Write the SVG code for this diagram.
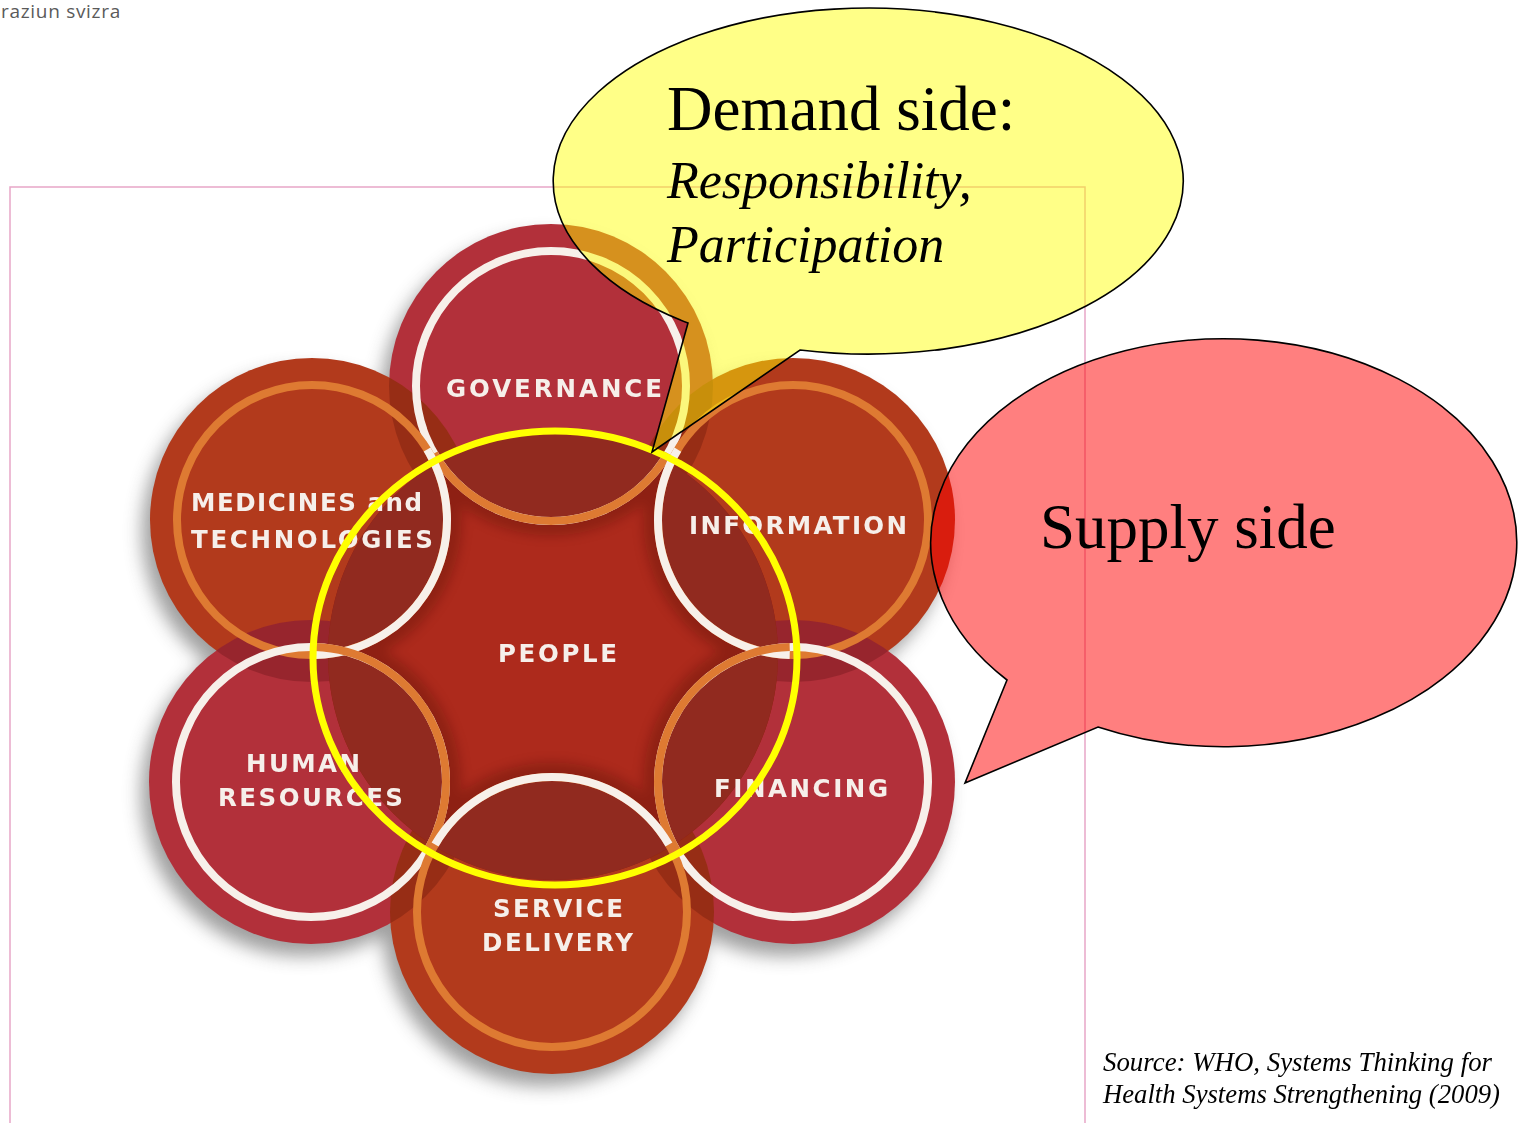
<svg xmlns="http://www.w3.org/2000/svg" width="1518" height="1123" viewBox="0 0 1518 1123">
<style>
.lbl{font-family:"DejaVu Sans","Open Sans",sans-serif;font-weight:700;font-size:24.5px;fill:#f6efea}
.crim{fill:#b2303a}
.oran{fill:#b23a1c}
.rw{fill:none;stroke:#f7f0ea;stroke-width:8}
.ro{fill:none;stroke:#de7a32;stroke-width:8}
.ser{font-family:"Liberation Serif","Times New Roman",serif;fill:#000}
.it{font-style:italic}
</style>
<defs>
<filter id="blur" x="-30%" y="-30%" width="160%" height="160%"><feGaussianBlur stdDeviation="9"/></filter>
<filter id="blur2" x="-30%" y="-30%" width="160%" height="160%"><feGaussianBlur stdDeviation="6"/></filter>
<clipPath id="cG"><circle cx="551" cy="386" r="162"/></clipPath>
<clipPath id="cM"><circle cx="312" cy="520" r="162"/></clipPath>
<clipPath id="cI"><circle cx="793" cy="520" r="162"/></clipPath>
<clipPath id="cH"><circle cx="311" cy="782" r="162"/></clipPath>
<clipPath id="cF"><circle cx="793" cy="782" r="162"/></clipPath>
<clipPath id="cS"><circle cx="552" cy="912" r="162"/></clipPath>
<clipPath id="cC"><circle cx="553" cy="655" r="225"/></clipPath>
</defs>
<rect width="1518" height="1123" fill="#fff"/>
<text x="1" y="18" font-family="'Open Sans','DejaVu Sans',sans-serif" font-size="19" fill="#5a5a5a" letter-spacing="0.7">raziun svizra</text>
<path d="M10,1123 V187 H1085 V1123" fill="none" stroke="#e8a6c8" stroke-width="1.5"/>
<g id="shadow" fill="#5e5e5e" opacity="0.6" filter="url(#blur)" transform="translate(-8,12)">
<circle cx="551" cy="386" r="162"/><circle cx="312" cy="520" r="162"/><circle cx="793" cy="520" r="162"/>
<circle cx="311" cy="782" r="162"/><circle cx="793" cy="782" r="162"/><circle cx="552" cy="912" r="162"/>
<circle cx="553" cy="655" r="200"/>
</g>
<g id="disks">
<circle class="crim" cx="551" cy="386" r="162"/>
<circle class="oran" cx="312" cy="520" r="162"/>
<circle class="oran" cx="793" cy="520" r="162"/>
<circle class="crim" cx="311" cy="782" r="162"/>
<circle class="crim" cx="793" cy="782" r="162"/>
<circle class="oran" cx="552" cy="912" r="162"/>
</g>
<g id="overlaps" fill="#3a0000" opacity="0.22">
<circle cx="312" cy="520" r="162" clip-path="url(#cG)"/>
<circle cx="793" cy="520" r="162" clip-path="url(#cG)"/>
<circle cx="311" cy="782" r="162" clip-path="url(#cM)"/>
<circle cx="793" cy="782" r="162" clip-path="url(#cI)"/>
<circle cx="552" cy="912" r="162" clip-path="url(#cH)"/>
<circle cx="552" cy="912" r="162" clip-path="url(#cF)"/>
</g>
<g id="center-area">
<circle cx="553" cy="655" r="225" fill="#ad2a1c"/>
<g clip-path="url(#cC)">
<g fill="#4a0800" opacity="0.3" filter="url(#blur2)">
<circle cx="551" cy="386" r="150"/><circle cx="312" cy="520" r="150"/><circle cx="793" cy="520" r="150"/>
<circle cx="311" cy="782" r="150"/><circle cx="793" cy="782" r="150"/><circle cx="552" cy="912" r="150"/>
</g>
<g fill="#912a1f">
<circle cx="551" cy="386" r="132"/><circle cx="312" cy="520" r="132"/><circle cx="793" cy="520" r="132"/>
<circle cx="311" cy="782" r="132"/><circle cx="793" cy="782" r="132"/><circle cx="552" cy="912" r="132"/>
</g>
</g>
</g>
<g id="node-governance">
<circle class="rw" cx="551" cy="386" r="135"/>
<path class="ro" d="M667.9,453.5 A135 135 0 0 1 434.1,453.5"/>
<text class="lbl" x="446" y="397" textLength="216" lengthAdjust="spacing">GOVERNANCE</text>
</g>
<g id="node-medicines">
<circle class="ro" cx="312" cy="520" r="135"/>
<path class="rw" d="M427.1,449.5 A135 135 0 0 1 315.5,655"/>
<text class="lbl" x="191" y="511" textLength="231" lengthAdjust="spacing">MEDICINES and</text>
<text class="lbl" x="191" y="548" textLength="242" lengthAdjust="spacing">TECHNOLOGIES</text>
</g>
<g id="node-information">
<circle class="ro" cx="793" cy="520" r="135"/>
<path class="rw" d="M789.7,655 A135 135 0 0 1 677.8,449.7"/>
<text class="lbl" x="689" y="534" textLength="218" lengthAdjust="spacing">INFORMATION</text>
</g>
<g id="node-human-resources">
<circle class="rw" cx="311" cy="782" r="135"/>
<path class="ro" d="M314.8,647.1 A135 135 0 0 1 426,852.7"/>
<text class="lbl" x="246" y="772" textLength="114" lengthAdjust="spacing">HUMAN</text>
<text class="lbl" x="218" y="806" textLength="185" lengthAdjust="spacing">RESOURCES</text>
</g>
<g id="node-financing">
<circle class="rw" cx="793" cy="782" r="135"/>
<path class="ro" d="M677.8,852.3 A135 135 0 0 1 789.7,647"/>
<text class="lbl" x="714" y="797" textLength="174" lengthAdjust="spacing">FINANCING</text>
</g>
<g id="node-service-delivery">
<circle class="ro" cx="552" cy="912" r="135"/>
<path class="rw" d="M435.1,844.5 A135 135 0 0 1 668.9,844.5"/>
<text class="lbl" x="493" y="917" textLength="130" lengthAdjust="spacing">SERVICE</text>
<text class="lbl" x="482" y="951" textLength="151" lengthAdjust="spacing">DELIVERY</text>
</g>
<g id="node-people">
<text class="lbl" x="498" y="662" textLength="119" lengthAdjust="spacing">PEOPLE</text>
</g>
<g id="node-yellow-circle">
<ellipse cx="555" cy="658" rx="242" ry="227" fill="none" stroke="#ffff00" stroke-width="7"/>
</g>
<g id="connectors"></g>
<g id="node-demand">
<path d="M688,323 L652,452 L800,350 A315 173 0 1 0 688,323 Z" fill="#ffff00" fill-opacity="0.47" stroke="#000" stroke-width="1.6" stroke-linejoin="miter"/>
<text class="ser" x="667" y="130" font-size="63">Demand side:</text>
<text class="ser it" x="667" y="198" font-size="52">Responsibility,</text>
<text class="ser it" x="667" y="262" font-size="52">Participation</text>
</g>
<g id="node-supply">
<path d="M1007,680 L965,783 L1098,727 A293 204 0 1 0 1007,680 Z" fill="#ff0000" fill-opacity="0.5" stroke="#000" stroke-width="1.6"/>
<text class="ser" x="1040" y="548" font-size="63">Supply side</text>
</g>
<g id="source">
<text class="ser it" x="1103" y="1071" font-size="26.5" textLength="389" lengthAdjust="spacingAndGlyphs">Source: WHO, Systems Thinking for</text>
<text class="ser it" x="1103" y="1103" font-size="26.5" textLength="397" lengthAdjust="spacingAndGlyphs">Health Systems Strengthening (2009)</text>
</g>
</svg>
